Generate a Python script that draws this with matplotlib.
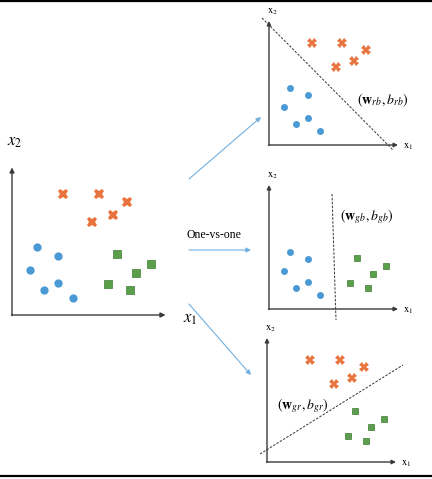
import matplotlib
matplotlib.use("Agg")
import matplotlib.pyplot as plt

plt.rcParams["font.family"] = ["Liberation Serif", "DejaVu Serif"]
plt.rcParams["mathtext.fontset"] = "stix"

# feature coordinates (x1, x2) of the three classes, shared by every panel
blue_x1 = [21, 39, 15, 39, 27, 51]
blue_x2 = [57, 50, 38, 27, 21, 14]
red_x1 = [43, 73, 97, 85, 67]
red_x2 = [102, 102, 95, 84, 78]
green_x1 = [88, 117, 104, 81, 99]
green_x2 = [51, 43, 35, 26, 21]

# decision boundaries of the three binary classifiers (two end points each)
rb_line = ([-7, 124], [127, -5])
gb_line = ([63, 67], [115, -11])
gr_line = ([-7, 136], [8, 97])

line_labels = [r"$(\mathbf{w}_{rb}, b_{rb})$",
               r"$(\mathbf{w}_{gb}, b_{gb})$",
               r"$(\mathbf{w}_{gr}, b_{gr})$"]
label_pos = [(114, 45), (98, 92), (36, 56)]

BLUE = "#4a9ad6"
RED = "#e8733d"
GREEN = "#5b9f4b"
GREEN_EDGE = "#3f7d36"
ARROW = "#72b0e0"

W, H = 432, 479
fig = plt.figure(figsize=(W / 100, H / 100), dpi=100)


def panel(ox, oy, scale, show=(True, True, True)):
    """Add a small axes whose origin sits at pixel (ox, oy)."""
    xr, yr = 130, 125
    ax = fig.add_axes([ox / W, 1 - oy / H, xr * scale / W, yr * scale / H])
    ax.set_xlim(0, xr)
    ax.set_ylim(0, yr)
    ax.axis("off")
    ms = 5.0 * scale
    if show[0]:
        ax.plot(blue_x1, blue_x2, "o", color=BLUE, ms=ms, mew=0, clip_on=False)
    if show[1]:
        ax.plot(red_x1, red_x2, "X", color=RED, ms=5.0 * scale ** 0.3 * 1.4,
                mew=0, clip_on=False)
    if show[2]:
        ax.plot(green_x1, green_x2, "s", color=GREEN, mec=GREEN_EDGE, mew=0.5,
                ms=ms * 0.85, clip_on=False)
    arrow = dict(arrowstyle="-|>", color="#3a3a3a", lw=1.0,
                 mutation_scale=6 * scale, shrinkA=0, shrinkB=0)
    ax.annotate("", xy=(129, 0), xytext=(-0.5, 0), arrowprops=arrow,
                annotation_clip=False)
    ax.annotate("", xy=(0, 124), xytext=(0, -0.5), arrowprops=arrow,
                annotation_clip=False)
    return ax


# left: the full three-class problem
left = panel(12, 315, 1.19)
left.text(2.5, 145, r"$x_2$", fontsize=12, ha="center", va="center")
left.text(150, -3, r"$x_1$", fontsize=12, ha="center", va="center")

# right: one classifier per pair of classes
panels = [(269, 145, (True, True, False), rb_line),
          (269, 309, (True, False, True), gb_line),
          (267, 462, (False, True, True), gr_line)]
for (ox, oy, show, line), text, pos in zip(panels, line_labels, label_pos):
    ax = panel(ox, oy, 1.0, show)
    ax.plot(line[0], line[1], color="#333333", lw=0.7, ls=(0, (2.5, 1.5)),
            clip_on=False)
    ax.text(pos[0], pos[1], text, fontsize=10, ha="center", va="center")
    ax.text(3, 133, r"$\mathrm{x}_2$", fontsize=7.5, ha="center", va="center")
    ax.text(139, -2, r"$\mathrm{x}_1$", fontsize=7.5, ha="center", va="center")

# overlay in pixel units for the connecting arrows and the frame
ov = fig.add_axes([0, 0, 1, 1])
ov.set_xlim(0, W)
ov.set_ylim(H, 0)
ov.axis("off")
ov.patch.set_alpha(0)
blue_arrow = dict(arrowstyle="-|>", color=ARROW, lw=0.8, mutation_scale=7,
                  shrinkA=0, shrinkB=0)
for start, end in [((189, 179), (261, 117)),
                   ((189, 250), (251, 250)),
                   ((189, 304), (251, 375))]:
    ov.annotate("", xy=end, xytext=start, arrowprops=blue_arrow)
ov.text(214, 235, "One-vs-one", fontsize=8.5, ha="center", va="center")
ov.axhline(0.8, color="black", lw=1.6)
ov.axhline(476, color="black", lw=1.6)

fig.savefig("out.png", dpi=100, facecolor="white")
